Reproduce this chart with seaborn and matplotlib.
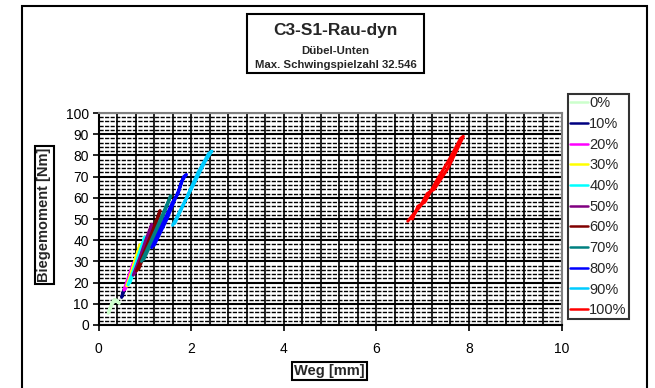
import pandas as pd
import matplotlib.pyplot as plt
import matplotlib.patches as patches
from matplotlib.ticker import MultipleLocator
import seaborn as sns

# Daten: Schleifen je Laststufe (Weg in mm, Biegemoment in Nm)
stufen = ['0%', '10%', '20%', '30%', '40%', '50%', '60%', '70%', '80%', '90%', '100%']
farben = ['#CCFFCC', '#000080', '#FF00FF', '#FFFF00', '#00FFFF', '#800080',
          '#800000', '#008080', '#0000FF', '#00CCFF', '#FF0000']

weg_0 = [0.21, 0.25, 0.29, 0.34, 0.39, 0.45, 0.40, 0.35, 0.30, 0.25, 0.22]
mom_0 = [5.5, 8.0, 10.5, 12.0, 11.8, 10.2, 11.0, 11.4, 10.0, 7.5, 6.0]
weg_10 = [0.50, 0.52, 0.55, 0.56, 0.54, 0.51]
mom_10 = [13.0, 15.0, 16.5, 17.0, 15.5, 13.5]
weg_20 = [0.55, 0.62, 0.70, 0.76, 0.73, 0.65, 0.58]
mom_20 = [16.5, 21.0, 25.5, 29.5, 28.0, 22.0, 17.0]
weg_30 = [0.61, 0.70, 0.80, 0.90, 0.87, 0.76, 0.64]
mom_30 = [18.5, 24.0, 31.0, 38.0, 36.0, 28.0, 19.0]
weg_40 = [0.64, 0.75, 0.88, 1.00, 0.97, 0.82, 0.68]
mom_40 = [19.0, 25.5, 34.0, 41.5, 39.0, 29.0, 20.0]
weg_50 = [0.75, 0.88, 1.02, 1.15, 1.12, 0.96, 0.79]
mom_50 = [23.5, 31.0, 40.0, 47.5, 45.0, 35.0, 24.5]
weg_60 = [0.82, 0.98, 1.16, 1.33, 1.30, 1.10, 0.87]
mom_60 = [25.5, 34.0, 44.0, 54.0, 51.5, 39.0, 26.5]
weg_70 = [0.93, 1.12, 1.34, 1.56, 1.52, 1.28, 0.98]
mom_70 = [30.0, 39.0, 50.0, 61.0, 58.5, 45.0, 31.0]
weg_80 = [1.15, 1.35, 1.60, 1.72, 1.80, 1.90, 1.84, 1.74, 1.48, 1.20]
mom_80 = [36.5, 46.0, 58.0, 62.0, 68.0, 71.0, 70.0, 64.0, 50.0, 37.5]
weg_90 = [1.60, 1.80, 2.05, 2.30, 2.45, 2.38, 2.15, 1.88, 1.65]
mom_90 = [47.0, 55.5, 66.0, 77.0, 82.0, 81.0, 72.0, 59.0, 48.0]
weg_100 = [6.68, 6.95, 7.10, 7.25, 7.55, 7.75, 7.88, 7.82, 7.60, 7.30, 7.05, 6.90, 6.78]
mom_100 = [49.0, 56.0, 62.0, 64.0, 74.0, 83.0, 89.0, 88.0, 79.0, 68.0, 58.0, 56.0, 50.0]

wege = [weg_0, weg_10, weg_20, weg_30, weg_40, weg_50, weg_60, weg_70, weg_80, weg_90, weg_100]
momente = [mom_0, mom_10, mom_20, mom_30, mom_40, mom_50, mom_60, mom_70, mom_80, mom_90, mom_100]

rows = []
for s, ws, ms in zip(stufen, wege, momente):
    for i, (w, m) in enumerate(zip(ws, ms)):
        rows.append({'Stufe': s, 'idx': i, 'Weg': w, 'Moment': m})
df = pd.DataFrame(rows)

sns.set_theme(style="white")
plt.rcParams['font.family'] = ['Liberation Sans', 'DejaVu Sans']

fig = plt.figure(figsize=(6.55, 3.88), dpi=100)
ax = fig.add_axes([98.5 / 655, 1 - 325 / 388, (561.5 - 98.5) / 655, (325 - 113) / 388])

sns.lineplot(data=df, x='Weg', y='Moment', hue='Stufe', hue_order=stufen,
             palette=farben, sort=False, estimator=None, units='Stufe',
             linewidth=2.2, ax=ax, legend=True)

ax.set_xlim(0, 10)
ax.set_ylim(0, 100)
ax.xaxis.set_major_locator(MultipleLocator(2))
ax.xaxis.set_minor_locator(MultipleLocator(0.4))
ax.yaxis.set_major_locator(MultipleLocator(10))
ax.yaxis.set_minor_locator(MultipleLocator(2))
ax.set_axisbelow(True)
ax.grid(True, which='major', axis='y', color='black', linewidth=1.5)
ax.grid(True, which='minor', axis='y', color='black', linewidth=1.0, linestyle=(0, (3, 1)))
ax.grid(True, which='both', axis='x', color='black', linewidth=1.2)
ax.tick_params(axis='both', which='major', labelsize=10, length=4, width=1.2,
               direction='out', colors='black', pad=3)
ax.tick_params(axis='both', which='minor', length=0)
ax.tick_params(axis='x', pad=8)
ax.tick_params(left=True, bottom=True)
ax.set_xlabel('')
ax.set_ylabel('')
for side in ['top', 'right']:
    ax.spines[side].set_color('#808080')
    ax.spines[side].set_linewidth(1.5)
for side in ['left', 'bottom']:
    ax.spines[side].set_color('black')
    ax.spines[side].set_linewidth(1.5)

# Legende rechts, eckiger Rahmen
handles, labels = ax.get_legend_handles_labels()
leg = ax.legend(handles, labels, loc='upper left',
                bbox_to_anchor=(568 / 655, 1 - 94 / 388), bbox_transform=fig.transFigure,
                fontsize=10.5, frameon=True, fancybox=False, edgecolor='black',
                handlelength=1.25, handletextpad=0.05, labelspacing=0.46,
                borderpad=0.15, borderaxespad=0)
leg.get_frame().set_linewidth(1.5)
for line in leg.get_lines():
    line.set_linewidth(1.8)

# Titelbox
fig.patches.append(patches.Rectangle((247 / 655, 1 - 73 / 388), 177 / 655, 59 / 388,
                                     transform=fig.transFigure, fill=False,
                                     edgecolor='black', linewidth=1.5))
fig.text(335.5 / 655, 1 - 31 / 388, 'C3-S1-Rau-dyn', ha='center', va='center',
         fontsize=12.5, fontweight='bold')
fig.text(335.5 / 655, 1 - 51 / 388, 'Dübel-Unten', ha='center', va='center',
         fontsize=8.2, fontweight='bold')
fig.text(335.5 / 655, 1 - 65 / 388, 'Max. Schwingspielzahl 32.546', ha='center', va='center',
         fontsize=8.2, fontweight='bold')

# Achsentitel mit Rahmen
box = dict(boxstyle='square,pad=0.15', fc='white', ec='black', lw=1.5)
fig.text(44.5 / 655, 1 - 215 / 388, 'Biegemoment [Nm]', rotation=90, ha='center', va='center',
         fontsize=10.5, fontweight='bold', bbox=box)
fig.text(329.5 / 655, 1 - 371 / 388, 'Weg [mm]', ha='center', va='center',
         fontsize=10.5, fontweight='bold', bbox=box)

# Äußerer Rahmen
fig.patches.append(patches.Rectangle((22 / 655, -0.05), (647 - 22) / 655, 1.05 - 6 / 388,
                                     transform=fig.transFigure, fill=False,
                                     edgecolor='black', linewidth=1.5))

plt.savefig('out.png', dpi=100)
